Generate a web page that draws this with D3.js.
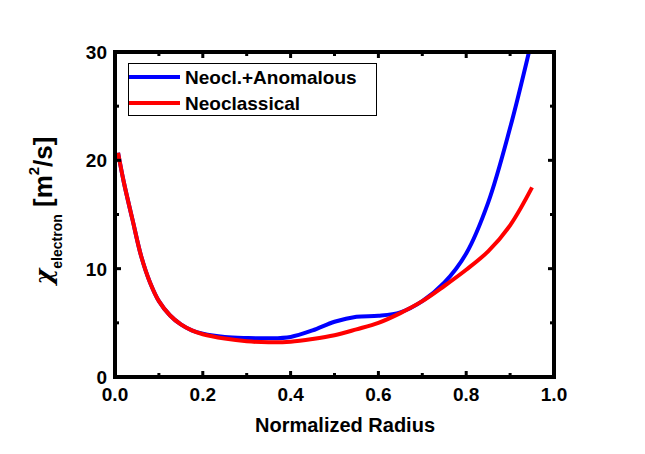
<!DOCTYPE html>
<html>
<head>
<meta charset="utf-8">
<script src="https://cdn.jsdelivr.net/npm/d3@7"></script>
<style>
  html, body { margin: 0; padding: 0; background: #fff; }
  svg { display: block; }
  text { font-family: Arial, "Liberation Sans", sans-serif; font-weight: bold; fill: #000; }
</style>
</head>
<body>
<svg id="chart" width="645" height="454"></svg>
<script>
// ---- data ----
const radius = [0.007,0.02,0.04,0.06,0.08,0.10,0.125,0.15,0.175,0.2,0.25,0.3,0.35,0.4,0.45,0.5,0.55,0.6,0.65,0.7,0.75,0.8,0.85,0.9,0.95];
const neoclassical = [20.7,18.0,14.5,11.1,8.7,7.0,5.7,4.85,4.3,3.95,3.55,3.3,3.2,3.25,3.5,3.85,4.4,5.0,5.9,7.0,8.4,9.9,11.6,14.0,17.5];
const radiusAnom = [0.007,0.02,0.04,0.06,0.08,0.10,0.125,0.15,0.175,0.2,0.25,0.3,0.35,0.4,0.45,0.5,0.55,0.6,0.65,0.7,0.75,0.8,0.85,0.9,0.943];
const neoclAnomalous = [20.7,18.0,14.5,11.1,8.7,7.0,5.7,4.85,4.3,4.0,3.7,3.6,3.57,3.7,4.3,5.1,5.57,5.65,5.97,7.0,8.7,11.4,16.1,23.0,30.0];
const seriesNames = ["Neocl.+Anomalous", "Neoclassical"];
const seriesColors = ["#0000ff", "#ff0000"];
const xTicks = [0.0,0.2,0.4,0.6,0.8,1.0];
const xMinor = [0.1,0.3,0.5,0.7,0.9];
const yTicks = [0,10,20,30];
const yMinor = [5,15,25];

// ---- layout ----
const svg = d3.select("#chart");
const L = 115, R = 554, T = 52, B = 377;
const x = d3.scaleLinear().domain([0,1]).range([L,R]);
const y = d3.scaleLinear().domain([0,30]).range([B,T]);

svg.append("clipPath").attr("id","clip").append("rect")
  .attr("x",L).attr("y",T).attr("width",R-L).attr("height",B-T);

const line = d3.line().x(d=>x(d[0])).y(d=>y(d[1])).curve(d3.curveCatmullRom.alpha(0.5));

const dataAnom = radiusAnom.map((r,i)=>[r,neoclAnomalous[i]]);
const dataNeo = radius.map((r,i)=>[r,neoclassical[i]]);

const g = svg.append("g").attr("clip-path","url(#clip)");
g.append("path").datum(dataAnom).attr("d",line).attr("fill","none")
  .attr("stroke",seriesColors[0]).attr("stroke-width",4);
g.append("path").datum(dataNeo).attr("d",line).attr("fill","none")
  .attr("stroke",seriesColors[1]).attr("stroke-width",4);

// ---- ticks (inward, mirrored) ----
const tk = svg.append("g").attr("stroke","#000").attr("stroke-width",3);
xTicks.concat(xMinor).forEach(v=>{
  const len = xTicks.includes(v) ? 6 : 4;
  tk.append("line").attr("x1",x(v)).attr("x2",x(v)).attr("y1",B).attr("y2",B-len);
  tk.append("line").attr("x1",x(v)).attr("x2",x(v)).attr("y1",T).attr("y2",T+len);
});
yTicks.concat(yMinor).forEach(v=>{
  const len = yTicks.includes(v) ? 6 : 4;
  tk.append("line").attr("y1",y(v)).attr("y2",y(v)).attr("x1",L).attr("x2",L+len);
  tk.append("line").attr("y1",y(v)).attr("y2",y(v)).attr("x1",R).attr("x2",R-len);
});

// frame
svg.append("rect").attr("x",L).attr("y",T).attr("width",R-L).attr("height",B-T)
  .attr("fill","none").attr("stroke","#000").attr("stroke-width",4);

// tick labels
svg.selectAll(".xl").data(xTicks).enter().append("text")
  .attr("x",d=>x(d)).attr("y",401).attr("text-anchor","middle")
  .style("font-size","19px").text(d=>d3.format(".1f")(d));
svg.selectAll(".yl").data(yTicks).enter().append("text")
  .attr("x",107).attr("y",d=>y(d)+7).attr("text-anchor","end")
  .style("font-size","19px").text(d=>d);

// axis titles
svg.append("text").attr("x",345).attr("y",432).attr("text-anchor","middle")
  .style("font-size","20px").text("Normalized Radius");

const yt = svg.append("text").attr("transform","translate(51.5,210.5) rotate(-90)")
  .attr("text-anchor","middle").style("font-size","26px");
yt.append("tspan").style("font-family","'DejaVu Serif', serif").style("font-style","italic")
  .style("font-weight","bold").style("font-size","24px").text("χ");
yt.append("tspan").attr("dy",10).style("font-size","14px").text("electron");
yt.append("tspan").attr("dy",-10).text(" [m");
yt.append("tspan").attr("dy",-13).style("font-size","15px").text("2");
yt.append("tspan").attr("dy",13).text("/s]");

// legend
const lg = svg.append("g");
lg.append("rect").attr("x",128.5).attr("y",63.5).attr("width",248).attr("height",52)
  .attr("fill","#fff").attr("stroke","#000").attr("stroke-width",1);
const legY = [77, 103];
seriesNames.forEach((n,i)=>{
  lg.append("line").attr("x1",129).attr("x2",180).attr("y1",legY[i]).attr("y2",legY[i])
    .attr("stroke",seriesColors[i]).attr("stroke-width",4);
  lg.append("text").attr("x",185).attr("y",legY[i]+7).style("font-size","19px").text(n);
});
</script>
</body>
</html>
